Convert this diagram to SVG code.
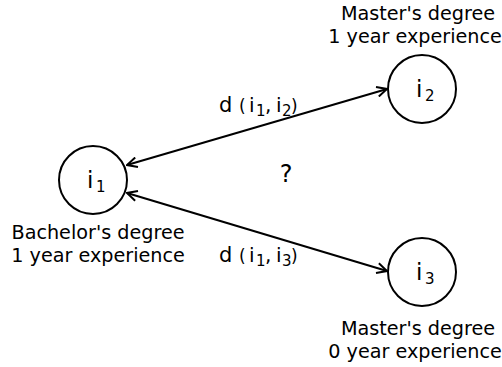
<svg xmlns="http://www.w3.org/2000/svg" width="502" height="367" viewBox="0 0 502 367">
<style>
text{font-family:"DejaVu Sans",sans-serif;fill:#000}
.lbl{font-size:19.2px}
.node{fill:#fff;stroke:#000;stroke-width:2}
.edge{stroke:#000;stroke-width:2;fill:none}
.big{font-size:23px}
.sub{font-size:15px}
.par{font-size:17px}
.dd{font-size:21px}
.ii{font-size:20px}
</style>
<defs>
<marker id="ah" viewBox="0 0 12 12" refX="11" refY="6" markerWidth="12" markerHeight="12" markerUnits="userSpaceOnUse" orient="auto-start-reverse">
<path d="M1,1 L11,6 L1,11" fill="none" stroke="#000" stroke-width="2"/>
</marker>
</defs>
<g id="connectors">
<line class="edge" x1="127" y1="165" x2="387" y2="89" marker-start="url(#ah)" marker-end="url(#ah)"/>
<line class="edge" x1="127" y1="193" x2="387" y2="271" marker-start="url(#ah)" marker-end="url(#ah)"/>
<text x="219" y="112"><tspan class="dd">d</tspan><tspan class="par" x="239">(</tspan><tspan class="ii" x="249">i</tspan><tspan class="sub" x="256" y="116">1</tspan><tspan class="ii" x="265" y="112">,</tspan><tspan class="ii" x="276">i</tspan><tspan class="sub" x="282" y="116">2</tspan><tspan class="par" x="291" y="112">)</tspan></text>
<text x="219" y="262"><tspan class="dd">d</tspan><tspan class="par" x="239">(</tspan><tspan class="ii" x="249">i</tspan><tspan class="sub" x="256" y="266">1</tspan><tspan class="ii" x="265" y="262">,</tspan><tspan class="ii" x="276">i</tspan><tspan class="sub" x="282" y="266">3</tspan><tspan class="par" x="291" y="262">)</tspan></text>
<text x="286" y="182" font-size="24" text-anchor="middle">?</text>
</g>
<g id="i1">
<circle class="node" cx="93" cy="180" r="34"/>
<text x="87" y="188" class="big">i<tspan class="sub" x="96" y="192">1</tspan></text>
<text x="98" y="239" class="lbl" text-anchor="middle">Bachelor's degree</text>
<text x="98" y="262" class="lbl" text-anchor="middle">1 year experience</text>
</g>
<g id="i2">
<circle class="node" cx="422" cy="89" r="34"/>
<text x="416" y="97" class="big">i<tspan class="sub" x="425" y="101">2</tspan></text>
<text x="418" y="20" class="lbl" text-anchor="middle">Master's degree</text>
<text x="415" y="43" class="lbl" text-anchor="middle">1 year experience</text>
</g>
<g id="i3">
<circle class="node" cx="422" cy="272" r="34"/>
<text x="416" y="280" class="big">i<tspan class="sub" x="425" y="284">3</tspan></text>
<text x="418" y="335" class="lbl" text-anchor="middle">Master's degree</text>
<text x="415" y="358" class="lbl" text-anchor="middle">0 year experience</text>
</g>
</svg>
